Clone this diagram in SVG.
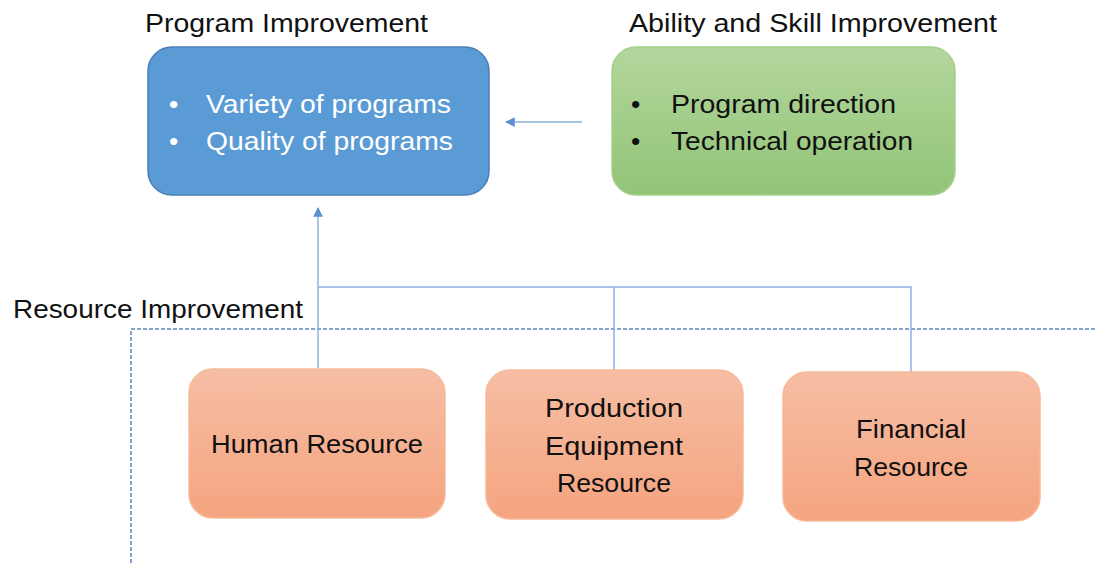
<svg xmlns="http://www.w3.org/2000/svg" width="1097" height="563" viewBox="0 0 1097 563">
<style>
text{font-family:"Liberation Sans",Arial,sans-serif;font-size:26.5px;fill:#111}
.w{fill:#fff}
.c{text-anchor:middle}
.conn{stroke:#8db3e2;stroke-width:1.5;fill:none}
.dash{stroke:#5b86b5;stroke-width:1.5;fill:none;stroke-dasharray:4 2}
.org{fill:url(#og);stroke:#f6b99a;stroke-width:1.5}
</style>
<defs>
<linearGradient id="gg" x1="0" y1="0" x2="0" y2="1"><stop offset="0" stop-color="#b3d69d"/><stop offset="1" stop-color="#92c477"/></linearGradient>
<linearGradient id="og" x1="0" y1="0" x2="0" y2="1"><stop offset="0" stop-color="#f6bea4"/><stop offset="1" stop-color="#f5a47f"/></linearGradient>
<marker id="ah" viewBox="0 0 10 10" refX="9" refY="5" markerWidth="6.5" markerHeight="6.5" orient="auto"><path d="M0,0L10,5L0,10z" fill="#5b8fd0"/></marker>
</defs>
<text x="145" y="32" textLength="283" lengthAdjust="spacingAndGlyphs">Program Improvement</text>
<text x="629" y="32" textLength="368" lengthAdjust="spacingAndGlyphs">Ability and Skill Improvement</text>
<text x="13" y="318" textLength="290" lengthAdjust="spacingAndGlyphs">Resource Improvement</text>
<g id="connectors">
<path class="dash" d="M131,563V329H1097"/>
<path class="conn" d="M582,122H506" marker-end="url(#ah)"/>
<path class="conn" d="M318,368V208" marker-end="url(#ah)"/>
<path class="conn" d="M318,287H911V372M614,287V370"/>
</g>
<g id="program">
<rect x="148" y="47" width="341" height="148" rx="24" fill="#5b9bd5" stroke="#4a7fb5" stroke-width="1.5"/>
<text class="w" x="169" y="113">•</text><text class="w" x="206" y="113" textLength="245" lengthAdjust="spacingAndGlyphs">Variety of programs</text>
<text class="w" x="169" y="150">•</text><text class="w" x="206" y="150" textLength="247" lengthAdjust="spacingAndGlyphs">Quality of programs</text>
</g>
<g id="ability">
<rect x="612" y="47" width="343" height="148" rx="24" fill="url(#gg)" stroke="#a5cf8c" stroke-width="1.5"/>
<text x="631" y="113">•</text><text x="671" y="113" textLength="225" lengthAdjust="spacingAndGlyphs">Program direction</text>
<text x="631" y="150">•</text><text x="671" y="150" textLength="242" lengthAdjust="spacingAndGlyphs">Technical operation</text>
</g>
<g id="human">
<rect class="org" x="189" y="369" width="256" height="149" rx="24"/>
<text class="c" x="317" y="453" textLength="212" lengthAdjust="spacingAndGlyphs">Human Resource</text>
</g>
<g id="production">
<rect class="org" x="486" y="370" width="257" height="149" rx="24"/>
<text class="c" x="614" y="417" textLength="138" lengthAdjust="spacingAndGlyphs">Production</text>
<text class="c" x="614" y="455" textLength="138" lengthAdjust="spacingAndGlyphs">Equipment</text>
<text class="c" x="614" y="492" textLength="114" lengthAdjust="spacingAndGlyphs">Resource</text>
</g>
<g id="financial">
<rect class="org" x="783" y="372" width="257" height="149" rx="24"/>
<text class="c" x="911" y="438" textLength="110" lengthAdjust="spacingAndGlyphs">Financial</text>
<text class="c" x="911" y="476" textLength="114" lengthAdjust="spacingAndGlyphs">Resource</text>
</g>
</svg>
